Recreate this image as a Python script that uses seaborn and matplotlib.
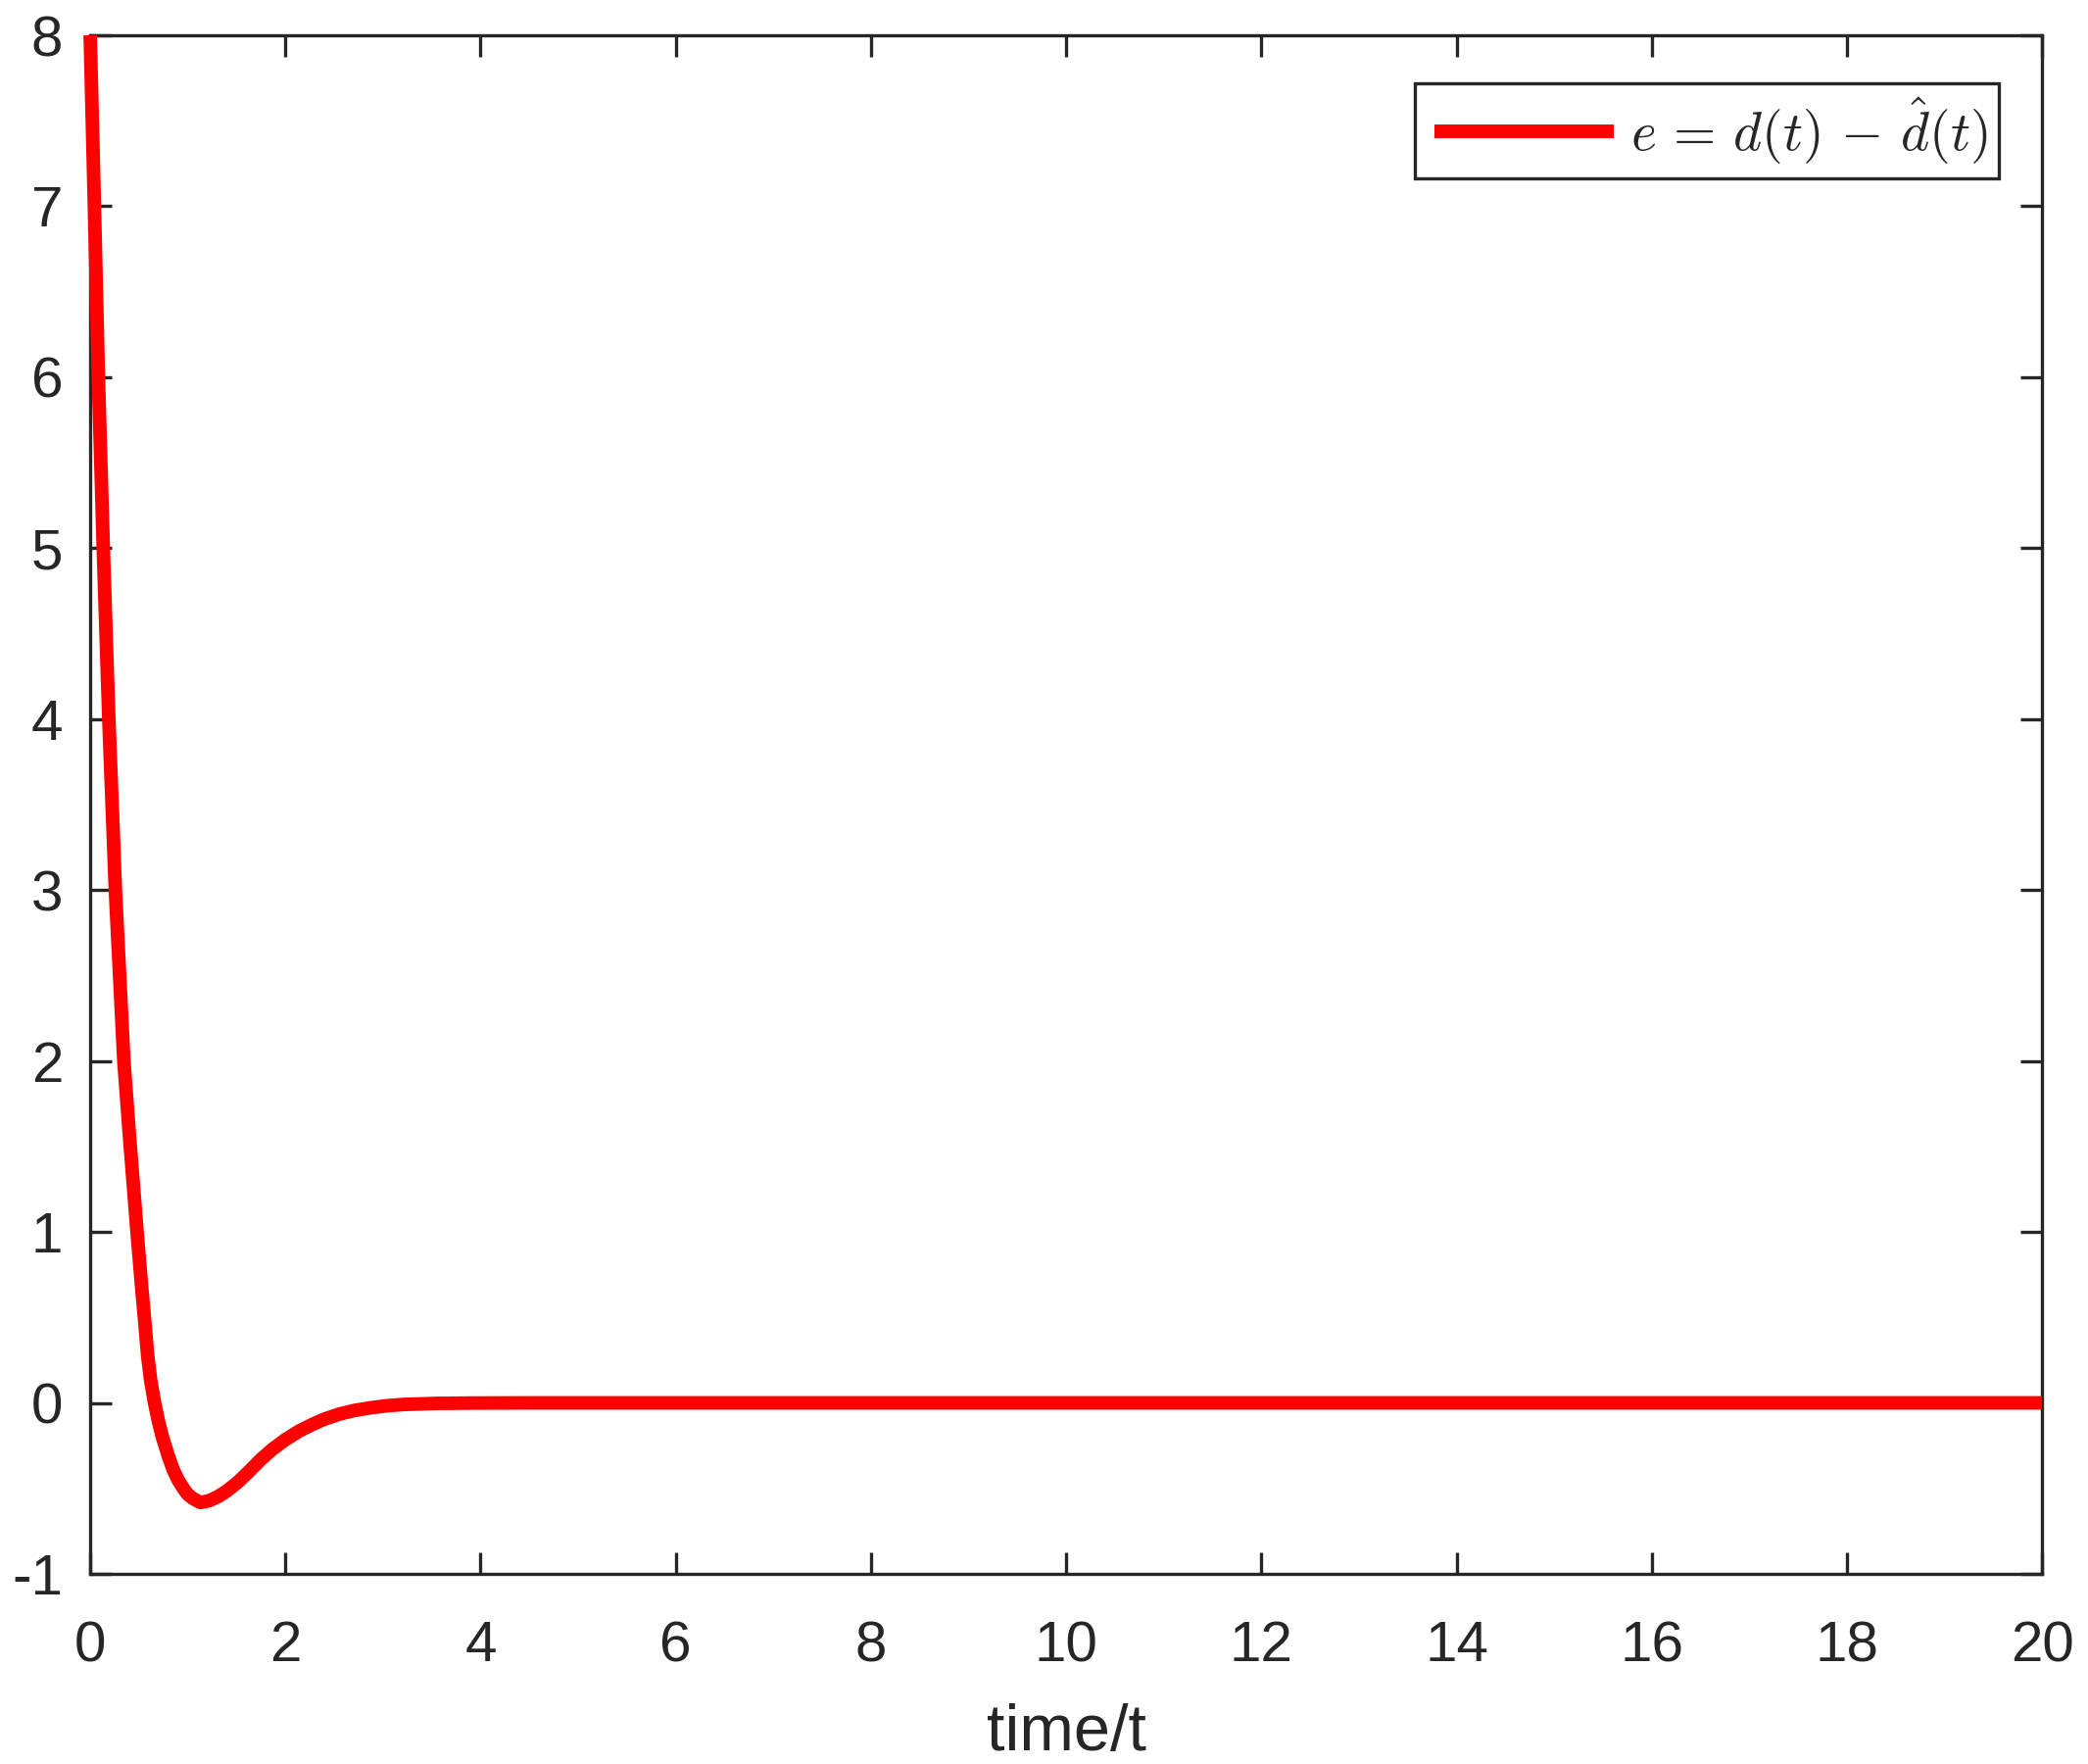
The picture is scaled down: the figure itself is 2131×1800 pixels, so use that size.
"""
plot.py
=======
Estimation error e = d(t) - d_hat(t) of the disturbance observer.
Values read off the reference figure.
"""

import matplotlib
matplotlib.use("Agg")
import matplotlib.pyplot as plt
import seaborn as sns
import pandas as pd
from matplotlib.lines import Line2D
from matplotlib.legend_handler import HandlerLine2D

# ─────────────────────────────────────────────
# DATA
# ─────────────────────────────────────────────
time_s = [0.0, 0.043, 0.084, 0.134, 0.191, 0.258, 0.345, 0.40, 0.48, 0.53,
          0.56, 0.59, 0.62, 0.66, 0.70, 0.74, 0.80, 0.85, 0.90, 0.96,
          1.00, 1.05, 1.13, 1.22, 1.31, 1.40, 1.51, 1.62, 1.75, 1.87,
          2.0, 2.14, 2.28, 2.40, 2.55, 2.70, 2.88, 3.05, 3.22, 3.55,
          3.90, 4.50, 20.0]
error = [8.0, 7.0, 6.0, 5.0, 4.0, 3.0, 2.0, 1.58, 1.0, 0.66,
         0.47, 0.27, 0.13, 0.0, -0.11, -0.20, -0.31, -0.39, -0.45, -0.505,
         -0.535, -0.558, -0.583, -0.572, -0.548, -0.515, -0.465, -0.405, -0.33, -0.27,
         -0.215, -0.165, -0.125, -0.095, -0.066, -0.045, -0.028, -0.016, -0.009, -0.003,
         -0.001, 0.0, 0.0]

x_ticks = list(range(0, 21, 2))
y_ticks = list(range(-1, 9))
legend_label = r"$e\,=\,d(t)\,-\,\hat{d}(t)\,$"
x_label = "time/t"

# ─────────────────────────────────────────────
# STYLE
# ─────────────────────────────────────────────
sns.set_theme(style="white")
plt.rcParams["font.family"] = ["Liberation Sans", "DejaVu Sans"]
plt.rcParams["mathtext.fontset"] = "cm"
plt.rcParams["axes.unicode_minus"] = False

INK = "#262626"
DPI = 200

df = pd.DataFrame({"t": time_s, "e": error})

fig = plt.figure(figsize=(2131 / DPI, 1800 / DPI), dpi=DPI)
ax = fig.add_axes([0.0432, 0.1078, 0.9348, 0.8722])

sns.lineplot(data=df, x="t", y="e", ax=ax, color="#ff0000", linewidth=5.0,
             label=legend_label, sort=False, clip_on=False, zorder=3,
             solid_capstyle="butt", solid_joinstyle="round")

ax.set_xlim(0, 20)
ax.set_ylim(-1, 8)
ax.set_xticks(x_ticks)
ax.set_yticks(y_ticks)
ax.set_xlabel(x_label, fontsize=24, color=INK, labelpad=11)
ax.set_ylabel("")

for side in ["left", "right", "top", "bottom"]:
    ax.spines[side].set_visible(True)
    ax.spines[side].set_color(INK)
    ax.spines[side].set_linewidth(1.2)

ax.tick_params(axis="both", which="both", direction="in", length=7.8, width=1.2,
               color=INK, labelcolor=INK, labelsize=21,
               top=True, right=True, bottom=True, left=True)
ax.tick_params(axis="x", pad=17)
ax.tick_params(axis="y", pad=10)

leg = ax.legend(loc="upper right", bbox_to_anchor=(0.978, 0.969), borderaxespad=0,
                fontsize=20, frameon=True, fancybox=False, framealpha=1,
                handlelength=3.43, handletextpad=0.3, borderpad=0.22,
                handler_map={Line2D: HandlerLine2D(xpad=0.13)})
leg.get_frame().set_edgecolor(INK)
leg.get_frame().set_linewidth(1.2)
for line in leg.get_lines():
    line.set_linewidth(5.0)

fig.savefig("out.png", dpi=DPI)
